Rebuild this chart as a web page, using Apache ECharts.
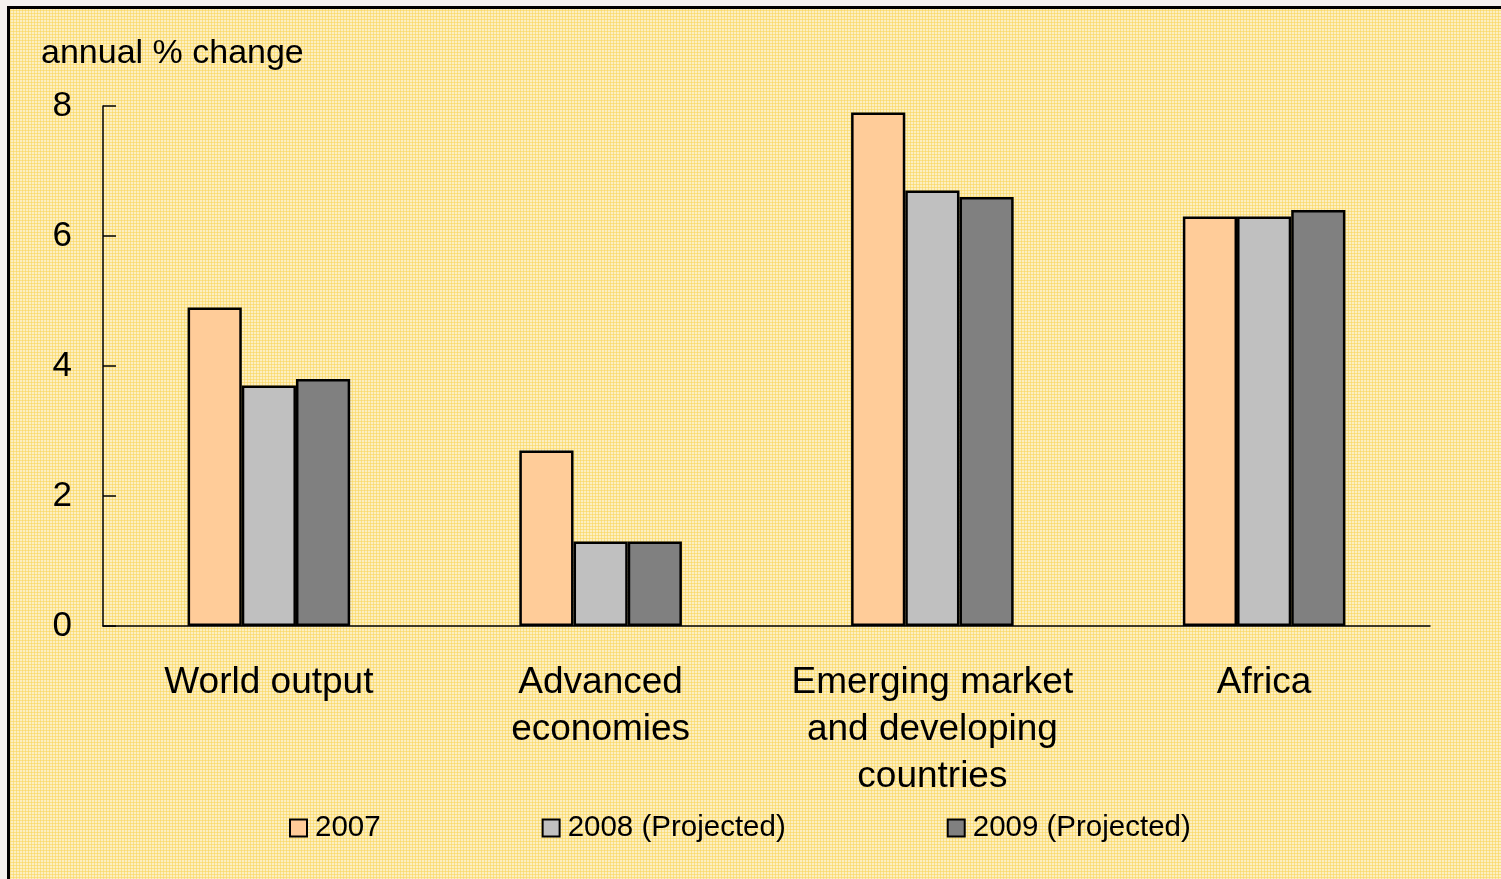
<!DOCTYPE html>
<html>
<head>
<meta charset="utf-8">
<script src="https://cdn.jsdelivr.net/npm/echarts@6/dist/echarts.min.js"></script>
<style>
html, body { margin: 0; padding: 0; background: #f4f1ee; }
#frame {
  position: absolute; left: 7px; top: 6px; width: 1510px; height: 890px;
  border-left: 3px solid #000; border-top: 3px solid #000;
  background-color: #fcefc2;
  background-image:
    repeating-linear-gradient(0deg, rgba(249,212,85,0.55) 0 1px, transparent 1px 3px),
    repeating-linear-gradient(90deg, rgba(249,212,85,0.55) 0 1px, transparent 1px 3px);
}
#chart { position: absolute; left: 0; top: 0; width: 1501px; height: 879px; }
</style>
</head>
<body>
<div id="frame"></div>
<div id="chart"></div>
<script>
// 数据
var categories = ['World output', 'Advanced\neconomies', 'Emerging market\nand developing\ncountries', 'Africa'];
var seriesNames = ['2007', '2008 (Projected)', '2009 (Projected)'];
var values2007 = [4.9, 2.7, 7.9, 6.3];
var values2008 = [3.7, 1.3, 6.7, 6.3];
var values2009 = [3.8, 1.3, 6.6, 6.4];
var yTicks = [0, 2, 4, 6, 8];

var colors = ['#ffcc99', '#c0c0c0', '#808080'];
var font = '"Liberation Sans", Arial, sans-serif';

var chart = echarts.init(document.getElementById('chart'));

function barSeries(name, data, i) {
  return {
    name: name,
    type: 'bar',
    data: data,
    barGap: '0%',
    barCategoryGap: '51%',
    itemStyle: { color: colors[i], borderColor: '#000', borderWidth: 2.5 }
  };
}

chart.setOption({
  animation: false,
  color: colors,
  title: {
    text: 'annual % change',
    left: 36, top: 32,
    textStyle: { fontFamily: font, fontWeight: 'normal', fontSize: 34, color: '#000' }
  },
  grid: { left: 103, right: 71, top: 106, bottom: 253 },
  legend: {
    data: seriesNames,
    left: 284, top: 808,
    itemWidth: 17, itemHeight: 17, itemGap: 161,
    icon: 'rect',
    itemStyle: { borderColor: '#000', borderWidth: 2 },
    textStyle: { fontFamily: font, fontSize: 29.5, color: '#000', padding: [0, 0, 0, 3] }
  },
  xAxis: {
    type: 'category',
    data: categories,
    axisLine: { lineStyle: { color: '#000', width: 1.5 } },
    axisTick: { inside: true, length: 12, lineStyle: { color: '#000', width: 1.5 } },
    axisLabel: {
      fontFamily: font, fontSize: 37, color: '#000',
      margin: 33, lineHeight: 47, interval: 0
    }
  },
  yAxis: {
    type: 'value',
    min: 0, max: 8, interval: 2,
    axisLine: { show: true, lineStyle: { color: '#000', width: 1.5 } },
    axisTick: { show: true, inside: true, length: 13, lineStyle: { color: '#000', width: 1.5 } },
    splitLine: { show: false },
    axisLabel: {
      fontFamily: font, fontSize: 35, color: '#000', margin: 31,
      formatter: function (v) { return yTicks.indexOf(v) >= 0 ? String(v) : ''; }
    }
  },
  series: [
    barSeries(seriesNames[0], values2007, 0),
    barSeries(seriesNames[1], values2008, 1),
    barSeries(seriesNames[2], values2009, 2)
  ]
});
</script>
</body>
</html>
